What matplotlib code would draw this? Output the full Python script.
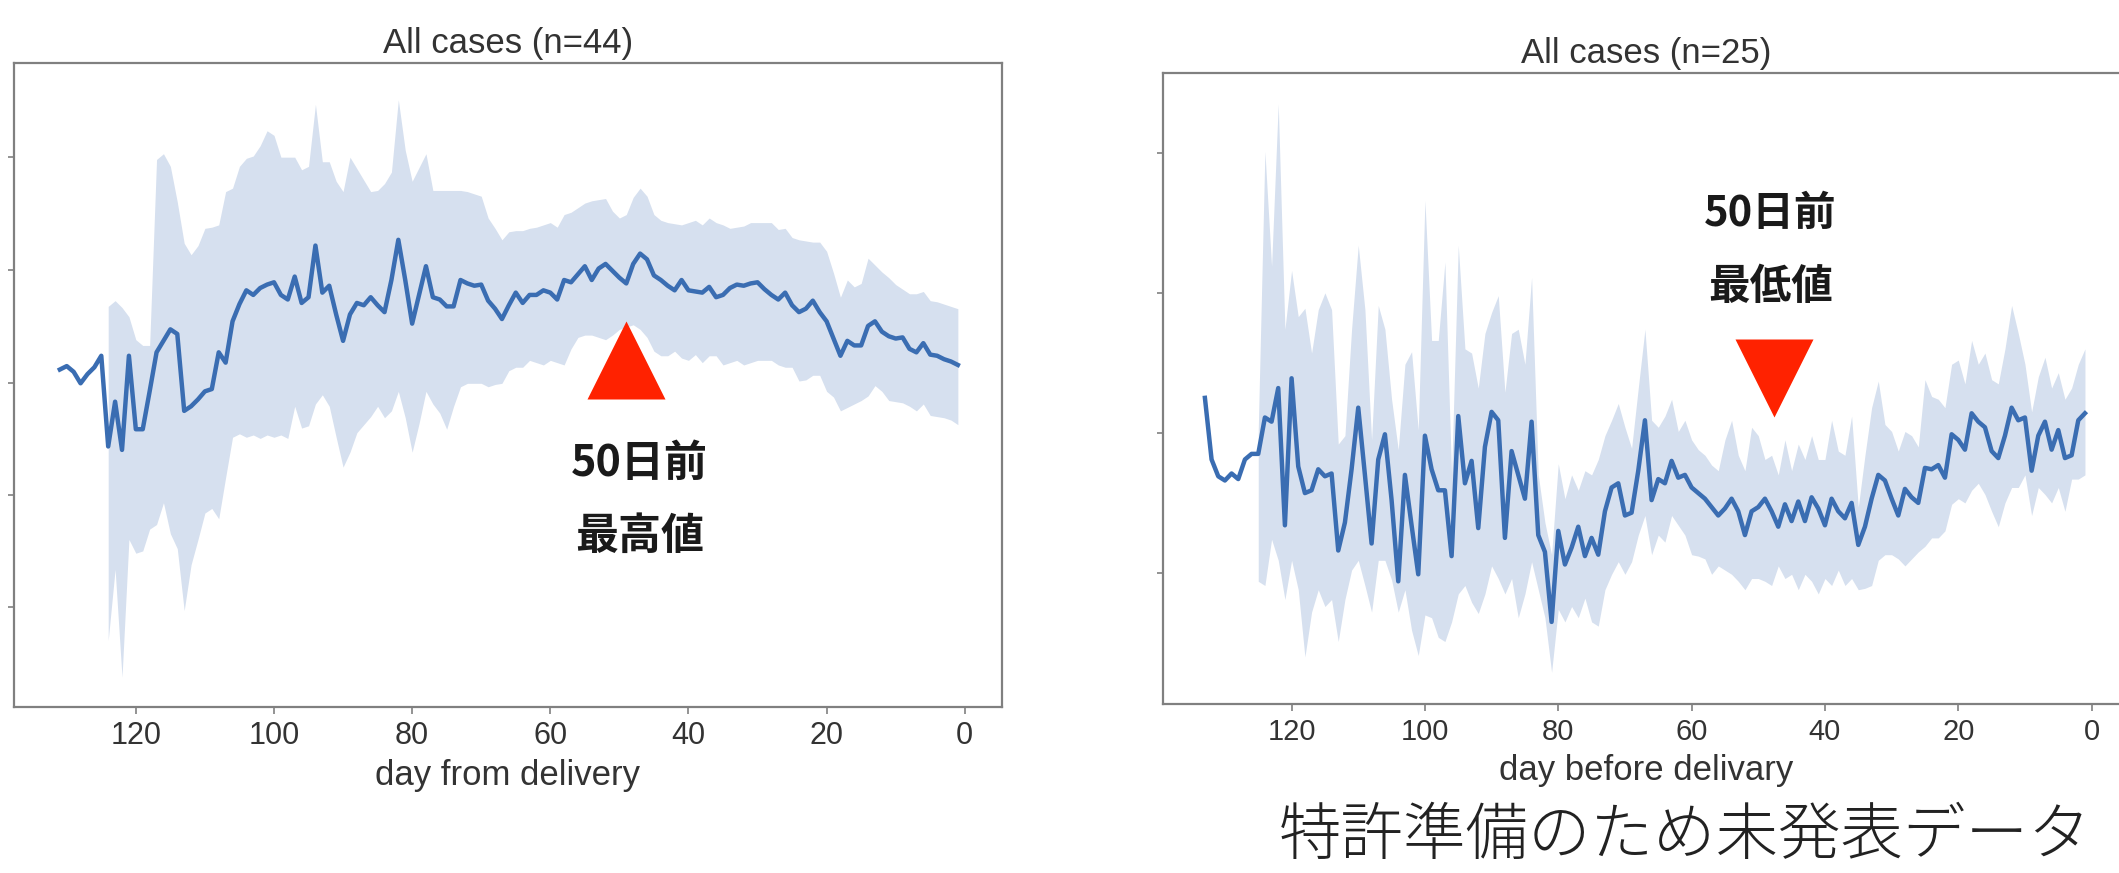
import numpy as np
import matplotlib
matplotlib.use("Agg")
import matplotlib.pyplot as plt

nan = np.nan

# left panel, day 131 -> day 1 before delivery
days_a = np.arange(131, 0, -1)
mean_a = [31.6, 31.9, 31.4, 30.4, 31.2, 31.8, 32.8, 24.9, 28.8, 24.6,
          32.8, 26.4, 26.4, 29.7, 33.1, 34.1, 35.1, 34.7, 28.0, 28.4,
          29.0, 29.7, 29.9, 33.1, 32.2, 35.8, 37.3, 38.5, 38.1, 38.7,
          39.0, 39.2, 38.1, 37.7, 39.7, 37.4, 37.9, 42.4, 38.3, 38.9,
          36.4, 34.1, 36.4, 37.4, 37.2, 37.9, 37.2, 36.6, 39.4, 42.9,
          39.4, 35.6, 38.1, 40.6, 37.9, 37.7, 37.1, 37.1, 39.4, 39.1,
          38.9, 39.0, 37.6, 36.9, 36.0, 37.2, 38.3, 37.4, 38.1, 38.1,
          38.5, 38.3, 37.7, 39.4, 39.2, 39.9, 40.6, 39.4, 40.4, 40.8,
          40.2, 39.6, 39.1, 40.8, 41.7, 41.2, 39.8, 39.4, 38.9, 38.5,
          39.4, 38.5, 38.4, 38.3, 38.8, 37.9, 38.1, 38.7, 39.0, 38.9,
          39.1, 39.2, 38.6, 38.1, 37.7, 38.3, 37.2, 36.6, 36.9, 37.6,
          36.6, 35.8, 34.3, 32.8, 34.1, 33.7, 33.7, 35.4, 35.8, 34.9,
          34.5, 34.3, 34.4, 33.4, 33.1, 33.9, 32.9, 32.8, 32.5, 32.3,
          32.0]
upper_a = [nan, nan, nan, nan, nan, nan, nan, 37.1, 37.6, 37.0,
           36.2, 34.2, 33.7, 33.7, 49.9, 50.4, 49.3, 46.2, 42.6, 41.6,
           42.4, 43.9, 44.0, 44.2, 47.1, 47.4, 49.3, 50.0, 50.2, 51.1,
           52.4, 52.0, 50.1, 50.1, 50.1, 49.0, 49.3, 54.7, 49.7, 49.7,
           48.0, 47.1, 50.1, 49.1, 48.1, 47.1, 47.2, 47.8, 48.8, 55.1,
           50.7, 48.0, 49.2, 50.4, 47.2, 47.2, 47.2, 47.2, 47.2, 47.1,
           46.9, 46.7, 44.8, 43.9, 42.9, 43.6, 43.7, 43.7, 43.9, 44.0,
           44.2, 44.4, 44.0, 45.1, 45.3, 45.7, 46.1, 46.3, 46.4, 46.5,
           45.4, 44.8, 45.1, 46.6, 47.4, 46.7, 45.1, 44.6, 44.4, 44.3,
           44.2, 44.4, 44.6, 44.2, 44.8, 44.4, 44.2, 43.9, 44.0, 44.1,
           44.4, 44.4, 44.4, 44.4, 43.8, 43.9, 43.1, 42.9, 42.8, 42.7,
           42.7, 41.9, 40.0, 37.9, 39.4, 38.8, 39.1, 41.3, 40.7, 40.1,
           39.6, 39.0, 38.6, 38.2, 38.2, 38.4, 37.6, 37.5, 37.3, 37.1,
           36.9]
lower_a = [nan, nan, nan, nan, nan, nan, nan, 8.0, 14.2, 4.8,
           16.8, 15.6, 15.8, 17.7, 18.1, 20.0, 17.3, 16.0, 10.6, 14.6,
           16.8, 19.1, 19.5, 18.6, 22.2, 25.7, 26.0, 25.7, 25.9, 25.6,
           25.9, 25.7, 25.9, 25.6, 28.4, 26.5, 26.7, 28.6, 29.4, 28.4,
           25.7, 23.1, 24.4, 26.1, 26.8, 27.5, 28.4, 27.4, 28.0, 29.7,
           27.4, 24.4, 26.9, 29.7, 28.6, 27.8, 26.4, 28.4, 30.1, 30.4,
           30.4, 30.4, 30.1, 30.3, 30.4, 31.5, 31.8, 31.8, 32.4, 32.2,
           32.0, 32.4, 32.2, 32.0, 33.4, 34.4, 34.6, 34.6, 34.4, 34.2,
           34.6, 35.1, 35.3, 35.5, 35.1, 34.4, 33.2, 32.8, 32.8, 33.2,
           32.6, 32.4, 32.9, 32.2, 32.8, 32.8, 32.0, 32.2, 32.4, 32.0,
           32.2, 32.4, 32.4, 32.4, 32.0, 31.8, 31.8, 30.6, 30.7, 31.1,
           31.1, 29.7, 29.2, 28.0, 28.3, 28.6, 28.9, 29.3, 30.2, 29.7,
           28.9, 28.8, 28.7, 28.4, 28.0, 28.6, 27.6, 27.5, 27.4, 27.2,
           26.8]

# right panel, day 133 -> day 1
days_b = np.arange(133, 0, -1)
mean_b = [22.5, 18.1, 16.9, 16.6, 17.1, 16.7, 18.1, 18.5, 18.5, 21.1,
          20.8, 23.2, 13.4, 23.9, 17.6, 15.7, 15.9, 17.4, 16.9, 17.1,
          11.6, 13.6, 17.4, 21.8, 17.0, 12.1, 18.1, 19.9, 15.2, 9.4,
          17.0, 13.4, 9.9, 19.8, 17.4, 15.9, 15.9, 11.2, 21.2, 16.4,
          18.0, 13.2, 19.0, 21.5, 20.9, 12.5, 18.7, 17.0, 15.3, 20.8,
          12.7, 11.5, 6.5, 13.0, 10.6, 11.8, 13.3, 11.2, 12.5, 11.3,
          14.4, 16.1, 16.4, 14.1, 14.3, 17.3, 20.9, 15.2, 16.7, 16.4,
          18.0, 16.8, 17.0, 16.1, 15.7, 15.3, 14.7, 14.1, 14.6, 15.3,
          14.4, 12.7, 14.4, 14.7, 15.3, 14.4, 13.3, 14.9, 13.7, 15.1,
          13.7, 15.4, 14.6, 13.4, 15.3, 14.4, 13.9, 15.0, 12.0, 13.3,
          15.3, 17.0, 16.6, 15.3, 14.1, 16.0, 15.4, 15.0, 17.5, 17.4,
          17.7, 16.8, 19.9, 19.5, 18.8, 21.4, 20.8, 20.4, 18.7, 18.2,
          19.8, 21.8, 20.9, 21.1, 17.3, 19.8, 20.8, 18.8, 20.2, 18.2,
          18.4, 20.9, 21.4]
upper_b = [nan, nan, nan, nan, nan, nan, nan, nan, 20.2, 40.1,
           31.9, 43.5, 27.4, 31.6, 28.3, 28.9, 25.7, 28.8, 30.0, 28.8,
           19.2, 19.8, 27.4, 33.4, 28.8, 19.5, 29.1, 27.4, 22.4, 18.8,
           24.9, 25.8, 20.2, 36.6, 26.6, 26.6, 32.2, 17.0, 33.4, 26.0,
           25.7, 23.2, 27.1, 28.6, 29.8, 22.9, 27.1, 27.4, 24.9, 31.1,
           17.0, 13.6, 11.3, 17.8, 15.3, 17.0, 15.9, 17.3, 17.0, 18.1,
           19.8, 20.9, 22.1, 20.4, 18.9, 23.2, 27.4, 20.9, 20.4, 21.2,
           22.4, 20.1, 20.9, 19.5, 18.8, 18.4, 17.7, 17.3, 19.5, 20.9,
           18.4, 17.3, 20.4, 19.8, 18.1, 18.4, 17.0, 19.5, 17.3, 19.2,
           18.1, 19.8, 18.1, 18.1, 20.9, 18.7, 18.4, 21.2, 14.7, 18.4,
           21.8, 23.7, 20.6, 20.1, 18.7, 20.1, 19.8, 19.0, 23.8, 22.6,
           22.4, 21.8, 24.9, 25.2, 23.5, 26.6, 24.9, 25.7, 23.8, 23.5,
           26.0, 29.1, 27.1, 24.9, 21.5, 24.0, 25.4, 23.2, 24.3, 22.4,
           23.2, 24.9, 26.0]
lower_b = [nan, nan, nan, nan, nan, nan, nan, nan, 9.4, 9.1,
           12.4, 10.9, 8.1, 10.9, 8.8, 4.0, 7.2, 8.8, 7.6, 8.1,
           5.1, 8.1, 10.2, 10.9, 9.1, 7.2, 10.9, 10.9, 9.5, 7.2,
           8.8, 5.9, 4.1, 7.0, 6.8, 5.4, 5.1, 6.5, 8.5, 9.1,
           7.9, 7.1, 8.5, 10.5, 9.6, 8.5, 9.6, 6.8, 8.5, 10.8,
           8.8, 6.8, 2.9, 7.4, 6.5, 7.6, 6.8, 8.2, 6.5, 6.2,
           8.8, 9.9, 10.8, 9.9, 10.8, 12.7, 14.1, 11.3, 12.7, 12.2,
           14.1, 13.4, 12.7, 11.3, 11.2, 11.0, 9.9, 10.5, 10.2, 9.9,
           9.4, 8.8, 9.6, 9.6, 9.4, 9.1, 10.5, 9.6, 9.9, 8.8,
           9.9, 9.4, 8.5, 9.6, 9.1, 10.2, 9.1, 9.6, 8.8, 8.9,
           9.1, 10.9, 11.3, 11.3, 11.0, 10.5, 11.0, 11.5, 11.9, 12.5,
           12.5, 13.0, 14.9, 15.3, 15.0, 15.9, 16.4, 15.6, 14.4, 13.3,
           15.0, 16.1, 16.1, 17.0, 14.1, 16.1, 15.6, 15.0, 16.1, 14.4,
           16.7, 16.7, 17.0]

xticks = [0, 20, 40, 60, 80, 100, 120]

line_col = "#3a6db2"
band_col = "#d6e0ef"
grey = "#808080"
txt = "#333333"
jp = ["Noto Sans CJK JP", "DejaVu Sans"]
lat = ["Liberation Sans", "DejaVu Sans"]

fig = plt.figure(figsize=(21.19, 8.73), dpi=100)
ax1 = fig.add_axes([0.0064, 0.1901, 0.4665, 0.7377])
ax2 = fig.add_axes([0.5488, 0.1936, 0.4559, 0.7228])


def draw(ax, days, mean, lo, hi, title, xlabel, tsize):
    ax.fill_between(days, lo, hi, color=band_col, lw=0)
    ax.plot(days, mean, color=line_col, lw=3.2)
    ax.set_xticks(xticks)
    ax.set_xticklabels([str(t) for t in xticks], fontsize=tsize,
                       family=lat, color=txt)
    ax.tick_params(axis="x", length=5, width=1.2, color=grey, pad=5)
    ax.tick_params(axis="y", length=4, width=1.2, color=grey,
                   labelleft=False)
    for s in ax.spines.values():
        s.set_color(grey)
        s.set_linewidth(1.6)
    ax.set_title(title, fontsize=25, family=lat, color=txt, pad=7)
    ax.set_xlabel(xlabel, fontsize=25, family=lat, color=txt, labelpad=6)


draw(ax1, days_a, mean_a, lower_a, upper_a, "All cases (n=44)",
     "day from delivery", 22)
ax1.set_xlim(137.7, -5.4)
ax1.set_ylim(2.2, 58.3)
ax1.set_yticks([10.9, 20.7, 30.4, 40.3, 50.1])

draw(ax2, days_b, mean_b, lower_b, upper_b, "All cases (n=25)",
     "day before delivary", 21)
ax2.set_xlim(139.3, -5.6)
ax2.set_ylim(0.64, 45.7)
ax2.set_yticks([10, 20, 30, 40])

# annotations
ax1.plot(49, 32.4, marker="^", ms=56, color="#ff2200", mec="none")
ax1.text(47.1, 23.5, "50日前", ha="center", va="center", fontsize=31,
         fontweight="bold", family=jp, color="#1a1a1a")
ax1.text(47.1, 17.1, "最高値", ha="center", va="center", fontsize=31,
         fontweight="bold", family=jp, color="#1a1a1a")

ax2.plot(47.6, 23.9, marker="v", ms=56, color="#ff2200", mec="none")
ax2.text(48.2, 35.6, "50日前", ha="center", va="center", fontsize=30,
         fontweight="bold", family=jp, color="#1a1a1a")
ax2.text(48.2, 30.4, "最低値", ha="center", va="center", fontsize=30,
         fontweight="bold", family=jp, color="#1a1a1a")

fig.text(0.795, 0.041, "特許準備のため未発表データ", ha="center", va="center",
         fontsize=45, fontweight="light", family=jp, color="#222222")

fig.savefig("out.png", dpi=100, facecolor="white")
